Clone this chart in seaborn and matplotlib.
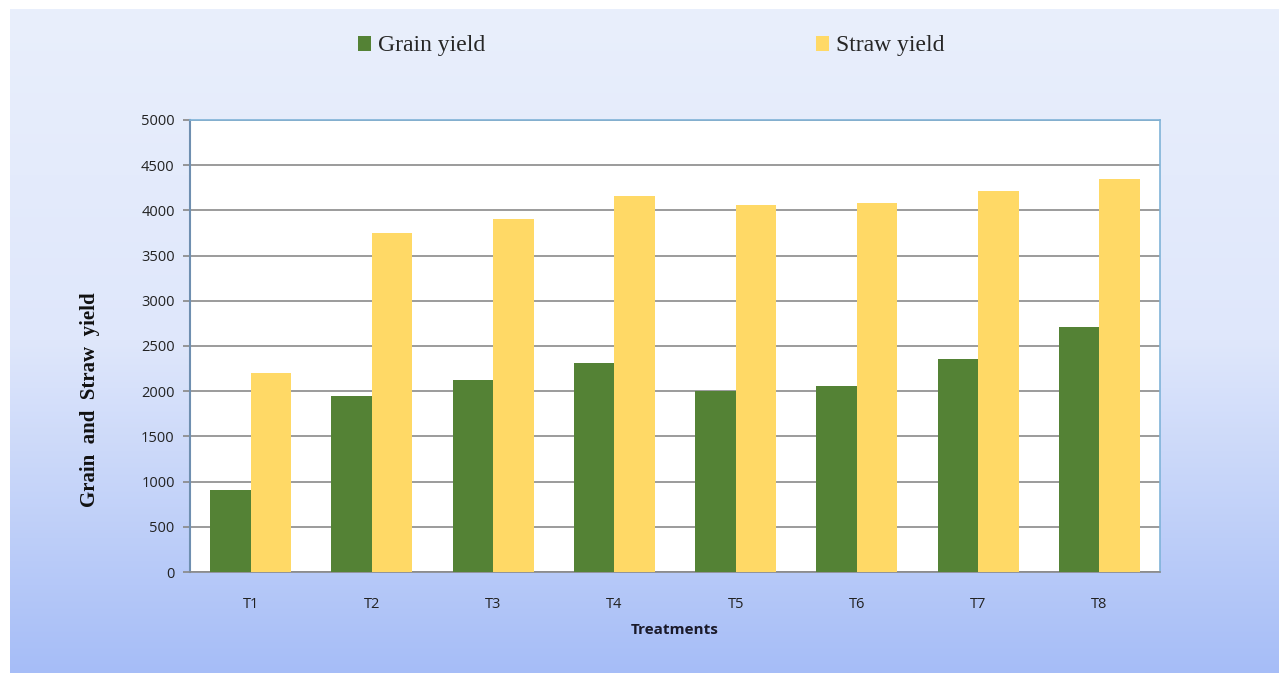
import numpy as np
import pandas as pd
import matplotlib
matplotlib.use("Agg")
import matplotlib.pyplot as plt
import seaborn as sns
from matplotlib.colors import LinearSegmentedColormap

treatments = ["T1", "T2", "T3", "T4", "T5", "T6", "T7", "T8"]
grain_yield = [907, 1951, 2120, 2308, 2002, 2054, 2356, 2714]
straw_yield = [2205, 3755, 3908, 4159, 4060, 4080, 4212, 4345]
series_names = ["Grain yield", "Straw yield"]
colors = ["#548235", "#FFD966"]

df = pd.DataFrame({
    "Treatment": treatments * 2,
    "Yield": grain_yield + straw_yield,
    "Series": [series_names[0]] * len(treatments) + [series_names[1]] * len(treatments),
})

sns.set_theme(style="white")
fig = plt.figure(figsize=(12.79, 6.73), dpi=100)
fig.patch.set_facecolor("white")

# gradient background
bg = fig.add_axes([10 / 1279, 0, 1 - 10 / 1279, 1 - 9 / 673], zorder=-10)
cmap = LinearSegmentedColormap.from_list("bg", ["#e9effc", "#dfe7fb", "#a6bdf7"])
grad = np.linspace(0, 1, 256).reshape(-1, 1)
bg.imshow(grad, aspect="auto", cmap=cmap, extent=[0, 1, 0, 1], origin="upper")
bg.set_axis_off()

ax = fig.add_axes([190 / 1279, 1 - 572 / 673, (1160 - 190) / 1279, (572 - 120) / 673])
ax.set_facecolor("white")
sns.barplot(data=df, x="Treatment", y="Yield", hue="Series", palette=colors,
            width=0.67, saturation=1, ax=ax, zorder=3, edgecolor="none")

ax.set_ylim(0, 5000)
ax.set_yticks(np.arange(0, 5001, 500))
ax.yaxis.grid(True, color="#8a8a8a", linewidth=1.2, zorder=0)
ax.set_axisbelow(True)
for s in ["top", "right"]:
    ax.spines[s].set_color("#7fb3d8")
    ax.spines[s].set_linewidth(1.2)
ax.spines["left"].set_color("#6f8fb0")
ax.spines["left"].set_linewidth(1.5)
ax.spines["bottom"].set_color("#8a8a8a")
ax.spines["bottom"].set_linewidth(1.2)
ax.tick_params(axis="y", left=True, length=5, color="#8a8a8a", labelsize=10.5, pad=6, labelcolor="#222222")
ax.tick_params(axis="x", bottom=False, labelsize=10.5, pad=12, labelcolor="#222222")
for lab in ax.get_xticklabels() + ax.get_yticklabels():
    lab.set_fontfamily("Open Sans")

ax.set_xlabel("Treatments", fontsize=11, fontweight="bold", fontfamily="Open Sans", labelpad=8, color="#1a1a2a")
ax.set_ylabel("Grain  and  Straw  yield", fontsize=15, fontweight="bold",
              fontfamily="Liberation Serif", color="#111111")
ax.yaxis.set_label_coords(-0.093, (572 - 400) / (572 - 120))

handles, labels = ax.get_legend_handles_labels()
ax.legend_.remove()
fig.legend(handles, labels, loc="center", bbox_to_anchor=(0.509, 1 - 46 / 673), ncol=2,
           frameon=False, columnspacing=14.0, handlelength=0.55, handleheight=0.6, handletextpad=0.3,
           prop={"family": "Liberation Serif", "size": 17})

fig.savefig("out.png", dpi=100)
